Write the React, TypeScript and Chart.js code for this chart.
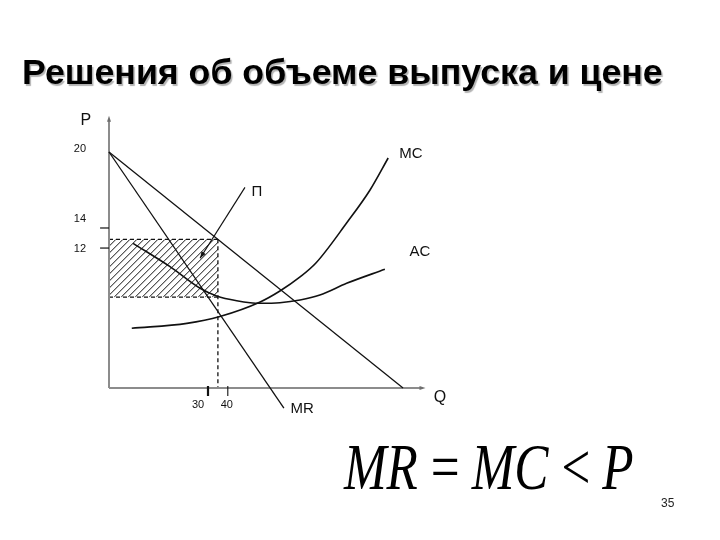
import React, { useEffect, useRef } from "react";
import { Chart, registerables } from "chart.js";

Chart.register(...registerables);

// ---- data (Q = quantity, P = price) ----
const demandQ = [0, 89.1];
const demandP = [20, 0];
const mrQ = [0, 53.0];
const mrP = [20, -1.7];
const mcQ = [6.9, 23.6, 33.6, 45.8, 51.8, 57.9, 62.7, 72.0, 79.1, 84.6];
const mcP = [5.06, 5.48, 6.06, 7.29, 8.22, 9.41, 10.59, 13.98, 16.78, 19.49];
const acQ = [7.3, 18.5, 27.6, 32.6, 38.7, 45.8, 51.8, 57.9, 63.9, 72.0, 83.6];
const acP = [12.26, 10.28, 8.45, 7.8, 7.4, 7.18, 7.23, 7.46, 7.88, 8.87, 10.06];
const piQ = [41.2, 27.6];
const piP = [17.0, 11.0];
const qStar = 33;
const pStar = 12.6;
const acStar = 7.7;

const pTickLabels = ["20", "14", "12"];
const pTickLabelAt = [20.25, 14.3, 11.8];
const pTickMarkAt = [13.56, 11.86];
const qTickLabels = ["30", "40"];
const qTickLabelAt = [27.0, 35.7];
const qTickMarkAt = [30, 36];

const curveNames = ["MC", "AC", "П", "MR"];
const curveNameQ = [91.5, 94.2, 44.8, 58.5];
const curveNameP = [19.85, 11.55, 16.6, -1.8];

const toPts = (xs: number[], ys: number[]) => xs.map((x, i) => ({ x, y: ys[i] }));

const sketchPlugin = {
  id: "sketch",
  beforeDatasetsDraw(chart: any) {
    const { ctx, scales } = chart;
    const X = (v: number) => scales.x.getPixelForValue(v);
    const Y = (v: number) => scales.y.getPixelForValue(v);
    ctx.save();

    // hatched profit rectangle
    const l = X(0), r = X(qStar), t = Y(pStar), b = Y(acStar);
    ctx.save();
    ctx.beginPath();
    ctx.rect(l, t, r - l, b - t);
    ctx.clip();
    ctx.strokeStyle = "#111";
    ctx.lineWidth = 1;
    const h = b - t;
    for (let k = -h; k < r - l + h; k += 7) {
      ctx.beginPath();
      ctx.moveTo(l + k, b);
      ctx.lineTo(l + k + h, t);
      ctx.stroke();
    }
    ctx.restore();

    // dashed rectangle edges and vertical drop line
    ctx.strokeStyle = "#111";
    ctx.lineWidth = 1.3;
    ctx.setLineDash([4, 3]);
    ctx.beginPath();
    ctx.moveTo(l, t);
    ctx.lineTo(r, t);
    ctx.moveTo(l, b);
    ctx.lineTo(r, b);
    ctx.moveTo(r, t);
    ctx.lineTo(r, Y(0));
    ctx.stroke();
    ctx.setLineDash([]);

    // axes (gray) with small arrows
    const ox = X(0), oy = Y(0);
    const yTop = Y(22.9), xEnd = X(95.3);
    ctx.strokeStyle = "#8c8c8c";
    ctx.fillStyle = "#6e6e6e";
    ctx.lineWidth = 2;
    ctx.beginPath();
    ctx.moveTo(ox, oy);
    ctx.lineTo(ox, yTop + 2);
    ctx.moveTo(ox, oy);
    ctx.lineTo(xEnd - 2, oy);
    ctx.stroke();
    ctx.beginPath();
    ctx.moveTo(ox, yTop - 2);
    ctx.lineTo(ox - 2, yTop + 4);
    ctx.lineTo(ox + 2, yTop + 4);
    ctx.closePath();
    ctx.fill();
    ctx.beginPath();
    ctx.moveTo(xEnd + 2, oy);
    ctx.lineTo(xEnd - 4, oy - 2);
    ctx.lineTo(xEnd - 4, oy + 2);
    ctx.closePath();
    ctx.fill();

    // tick marks
    ctx.strokeStyle = "#111";
    ctx.lineWidth = 1.2;
    pTickMarkAt.forEach((v) => {
      ctx.beginPath();
      ctx.moveTo(X(-2.7), Y(v));
      ctx.lineTo(ox, Y(v));
      ctx.stroke();
    });
    qTickMarkAt.forEach((v, i) => {
      ctx.lineWidth = i === 0 ? 2.2 : 1.1;
      ctx.beginPath();
      ctx.moveTo(X(v), Y(0.17));
      ctx.lineTo(X(v), Y(-0.68));
      ctx.stroke();
    });
    ctx.restore();
  },
  afterDatasetsDraw(chart: any) {
    const { ctx, scales } = chart;
    const X = (v: number) => scales.x.getPixelForValue(v);
    const Y = (v: number) => scales.y.getPixelForValue(v);
    ctx.save();

    // arrowhead on the Π pointer
    const x1 = X(piQ[0]), y1 = Y(piP[0]), x2 = X(piQ[1]), y2 = Y(piP[1]);
    const a = Math.atan2(y2 - y1, x2 - x1);
    ctx.fillStyle = "#111";
    ctx.beginPath();
    ctx.moveTo(x2, y2);
    ctx.lineTo(x2 - 7 * Math.cos(a - 0.35), y2 - 7 * Math.sin(a - 0.35));
    ctx.lineTo(x2 - 7 * Math.cos(a + 0.35), y2 - 7 * Math.sin(a + 0.35));
    ctx.closePath();
    ctx.fill();

    ctx.textAlign = "center";
    ctx.textBaseline = "middle";
    ctx.fillStyle = "#111";

    // tick labels
    ctx.font = "11px 'Liberation Sans', Arial, sans-serif";
    pTickLabels.forEach((s, i) => ctx.fillText(s, X(-8.8), Y(pTickLabelAt[i])));
    qTickLabels.forEach((s, i) => ctx.fillText(s, X(qTickLabelAt[i]), Y(-1.45)));

    // axis names and curve names
    ctx.font = "16px 'Liberation Sans', Arial, sans-serif";
    ctx.fillText("P", X(-7), Y(22.7));
    ctx.fillText("Q", X(100.3), Y(-0.85));
    ctx.font = "15px 'Liberation Sans', Arial, sans-serif";
    curveNames.forEach((s, i) => ctx.fillText(s, X(curveNameQ[i]), Y(curveNameP[i])));
    ctx.restore();
  },
};

export default function App() {
  const ref = useRef<HTMLCanvasElement | null>(null);
  useEffect(() => {
    if (!ref.current) return;
    const line = { borderColor: "#111", pointRadius: 0, showLine: true, fill: false, clip: false as any };
    const chart = new Chart(ref.current, {
      type: "scatter",
      data: {
        datasets: [
          { ...line, label: "D", data: toPts(demandQ, demandP), borderWidth: 1.3 },
          { ...line, label: "MR", data: toPts(mrQ, mrP), borderWidth: 1.3 },
          { ...line, label: "MC", data: toPts(mcQ, mcP), borderWidth: 1.6, cubicInterpolationMode: "monotone" },
          { ...line, label: "AC", data: toPts(acQ, acP), borderWidth: 1.6, cubicInterpolationMode: "monotone" },
          { ...line, label: "П", data: toPts(piQ, piP), borderWidth: 1.2 },
        ] as any,
      },
      options: {
        responsive: false,
        animation: false,
        devicePixelRatio: 1,
        layout: { padding: { left: 109, right: 281, top: 116.6, bottom: 116.6 } },
        scales: {
          x: { type: "linear", min: 0, max: 100, display: false },
          y: { type: "linear", min: -3, max: 23, display: false },
        },
        plugins: { legend: { display: false }, tooltip: { enabled: false }, title: { display: false } },
      },
      plugins: [sketchPlugin],
    });
    return () => chart.destroy();
  }, []);

  return (
    <div style={{ position: "fixed", left: 0, top: 0, width: 720, height: 540, background: "#fff", overflow: "hidden" }}>
      <canvas ref={ref} width={720} height={540} style={{ position: "absolute", left: 0, top: 0, display: "block" }} />
      <div
        style={{
          position: "absolute",
          left: 22,
          top: 55,
          font: "bold 35.7px 'Liberation Sans', Arial, sans-serif",
          lineHeight: 1,
          color: "#000",
          whiteSpace: "pre",
          textShadow: "1.5px 1.5px 1px rgba(0,0,0,0.3)",
        }}
      >
        Решения об объеме выпуска и цене
      </div>
      <div
        style={{
          position: "absolute",
          left: 344,
          top: 434,
          font: "italic 66px 'Liberation Serif', 'Times New Roman', serif",
          lineHeight: 1,
          color: "#000",
          whiteSpace: "pre",
          wordSpacing: "-4px",
          transform: "scaleX(0.775)",
          transformOrigin: "left top",
        }}
      >
        MR = MC &lt; P
      </div>
      <div
        style={{
          position: "absolute",
          left: 661,
          top: 497,
          font: "12px 'Liberation Sans', Arial, sans-serif",
          lineHeight: 1,
          color: "#222",
        }}
      >
        35
      </div>
    </div>
  );
}
